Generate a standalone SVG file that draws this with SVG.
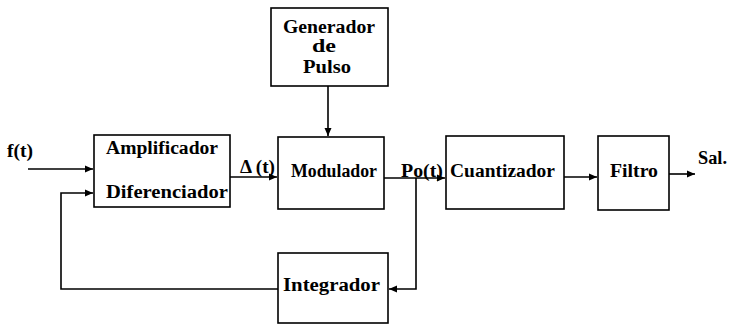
<svg xmlns="http://www.w3.org/2000/svg" width="729" height="325" viewBox="0 0 729 325">
<defs>
<marker id="arr" markerUnits="userSpaceOnUse" markerWidth="9" markerHeight="8" refX="8" refY="4" orient="auto">
<path d="M0,0.5 L8,4 L0,7.5 Z" fill="#000"/>
</marker>
<style>
.box{fill:#fff;stroke:#000;stroke-width:1.6}
.t{font-family:"Liberation Serif","Times New Roman",serif;font-weight:bold;font-size:18px;fill:#000}
.c{fill:none;stroke:#000;stroke-width:1.6}
</style>
</defs>
<rect width="729" height="325" fill="#fff"/>
<g id="connectors">
<path class="c" d="M28,169 H93" marker-end="url(#arr)"/>
<path class="c" d="M278,289 H61 V193 H93" marker-end="url(#arr)"/>
<path class="c" d="M230,177 H277" marker-end="url(#arr)"/>
<path class="c" d="M328,86 V136" marker-end="url(#arr)"/>
<path class="c" d="M384,178 H445" marker-end="url(#arr)"/>
<path class="c" d="M416,178 V289 H389" marker-end="url(#arr)"/>
<path class="c" d="M564,177 H597" marker-end="url(#arr)"/>
<path class="c" d="M669,174 H695" marker-end="url(#arr)"/>
</g>
<g id="generador">
<rect class="box" x="271" y="8" width="117" height="78"/>
<text class="t" x="283" y="33" textLength="92" lengthAdjust="spacingAndGlyphs">Generador</text>
<text class="t" x="312" y="52" textLength="24" lengthAdjust="spacingAndGlyphs">de</text>
<text class="t" x="303" y="73" textLength="48" lengthAdjust="spacingAndGlyphs">Pulso</text>
</g>
<g id="amplificador">
<rect class="box" x="94" y="135" width="136" height="72"/>
<text class="t" x="106" y="154" textLength="112" lengthAdjust="spacingAndGlyphs">Amplificador</text>
<text class="t" x="106" y="198" textLength="122" lengthAdjust="spacingAndGlyphs">Diferenciador</text>
</g>
<g id="modulador">
<rect class="box" x="278" y="137" width="106" height="72"/>
<text class="t" x="291" y="177" textLength="86" lengthAdjust="spacingAndGlyphs">Modulador</text>
</g>
<g id="cuantizador">
<rect class="box" x="446" y="136" width="118" height="73"/>
<text class="t" x="450" y="177" textLength="105" lengthAdjust="spacingAndGlyphs">Cuantizador</text>
</g>
<g id="filtro">
<rect class="box" x="598" y="136" width="71" height="74"/>
<text class="t" x="610" y="177" textLength="48" lengthAdjust="spacingAndGlyphs">Filtro</text>
</g>
<g id="integrador">
<rect class="box" x="278" y="253" width="110" height="70"/>
<text class="t" x="283" y="291" textLength="97" lengthAdjust="spacingAndGlyphs">Integrador</text>
</g>
<g id="labels">
<text class="t" x="7" y="157" textLength="26" lengthAdjust="spacingAndGlyphs">f(t)</text>
<text class="t" x="240" y="173" textLength="35" lengthAdjust="spacingAndGlyphs">Δ (t)</text>
<text class="t" x="401" y="177" textLength="42" lengthAdjust="spacingAndGlyphs">Po(t)</text>
<text class="t" x="698" y="164" textLength="29" lengthAdjust="spacingAndGlyphs">Sal.</text>
</g>
</svg>
